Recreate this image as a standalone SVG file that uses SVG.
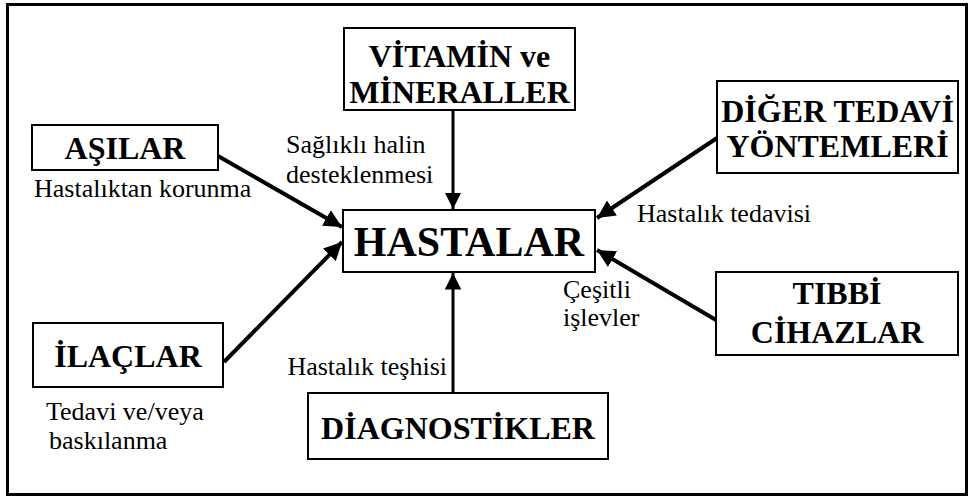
<svg xmlns="http://www.w3.org/2000/svg" width="972" height="498" viewBox="0 0 972 498">
<style>
.box{fill:#fff;stroke:#000;stroke-width:2}
.t{font-family:'Liberation Serif','Times New Roman',serif;font-weight:bold;font-size:32px;fill:#000;text-anchor:middle}
.big{font-size:42px}
.l{font-family:'Liberation Serif','Times New Roman',serif;font-size:26px;fill:#000}
.c{stroke:#000;stroke-width:4;fill:none}
.v{stroke-width:3}
</style>
<defs>
<marker id="ah" viewBox="0 0 10 10" refX="10" refY="5" markerWidth="4.5" markerHeight="4.5" orient="auto" markerUnits="strokeWidth">
<path d="M0,0 L10,5 L0,10 z" fill="#000"/>
</marker>
<marker id="ahv" viewBox="0 0 10 10" refX="10" refY="5" markerWidth="5.5" markerHeight="5.5" orient="auto" markerUnits="strokeWidth">
<path d="M0,0 L10,5 L0,10 z" fill="#000"/>
</marker>
</defs>
<rect x="7.5" y="4.5" width="959" height="490" fill="#fff" stroke="#000" stroke-width="3"/>
<g id="connectors">
<line class="c v" x1="453" y1="110" x2="453" y2="209" marker-end="url(#ahv)"/>
<line class="c v" x1="453" y1="393" x2="453" y2="273" marker-end="url(#ahv)"/>
<line class="c" x1="218" y1="156" x2="342" y2="227" marker-end="url(#ah)"/>
<line class="c" x1="224" y1="362" x2="342" y2="242" marker-end="url(#ah)"/>
<line class="c" x1="717" y1="138" x2="597" y2="218" marker-end="url(#ah)"/>
<line class="c" x1="716" y1="320" x2="597" y2="250" marker-end="url(#ah)"/>
</g>
<g id="hastalar">
<rect class="box" x="343" y="210" width="252" height="62"/>
<text class="t big" x="469" y="256">HASTALAR</text>
</g>
<g id="vitamin">
<rect class="box" x="344" y="28" width="231" height="82"/>
<text class="t" x="459.5" y="67">VİTAMİN ve</text>
<text class="t" x="459.5" y="103">MİNERALLER</text>
</g>
<g id="asilar">
<rect class="box" x="32" y="125" width="186" height="45"/>
<text class="t" x="125" y="159">AŞILAR</text>
</g>
<g id="diger">
<rect class="box" x="717" y="81" width="241" height="92"/>
<text class="t" x="837.5" y="122">DİĞER TEDAVİ</text>
<text class="t" x="837.5" y="157">YÖNTEMLERİ</text>
</g>
<g id="ilaclar">
<rect class="box" x="33" y="323" width="190" height="64"/>
<text class="t" x="128" y="367">İLAÇLAR</text>
</g>
<g id="diagnostikler">
<rect class="box" x="308" y="393" width="300" height="66"/>
<text class="t" x="458" y="439">DİAGNOSTİKLER</text>
</g>
<g id="tibbi">
<rect class="box" x="716" y="272" width="242" height="83"/>
<text class="t" x="837" y="304">TIBBİ</text>
<text class="t" x="837" y="343">CİHAZLAR</text>
</g>
<g id="labels">
<text class="l" x="34" y="197">Hastalıktan korunma</text>
<text class="l" x="286" y="153">Sağlıklı halin</text>
<text class="l" x="286" y="183">desteklenmesi</text>
<text class="l" x="637" y="222">Hastalık tedavisi</text>
<text class="l" x="563" y="298">Çeşitli</text>
<text class="l" x="563" y="326">işlevler</text>
<text class="l" x="447" y="375" text-anchor="end">Hastalık teşhisi</text>
<text class="l" x="46" y="420">Tedavi ve/veya</text>
<text class="l" x="49" y="449">baskılanma</text>
</g>
</svg>
